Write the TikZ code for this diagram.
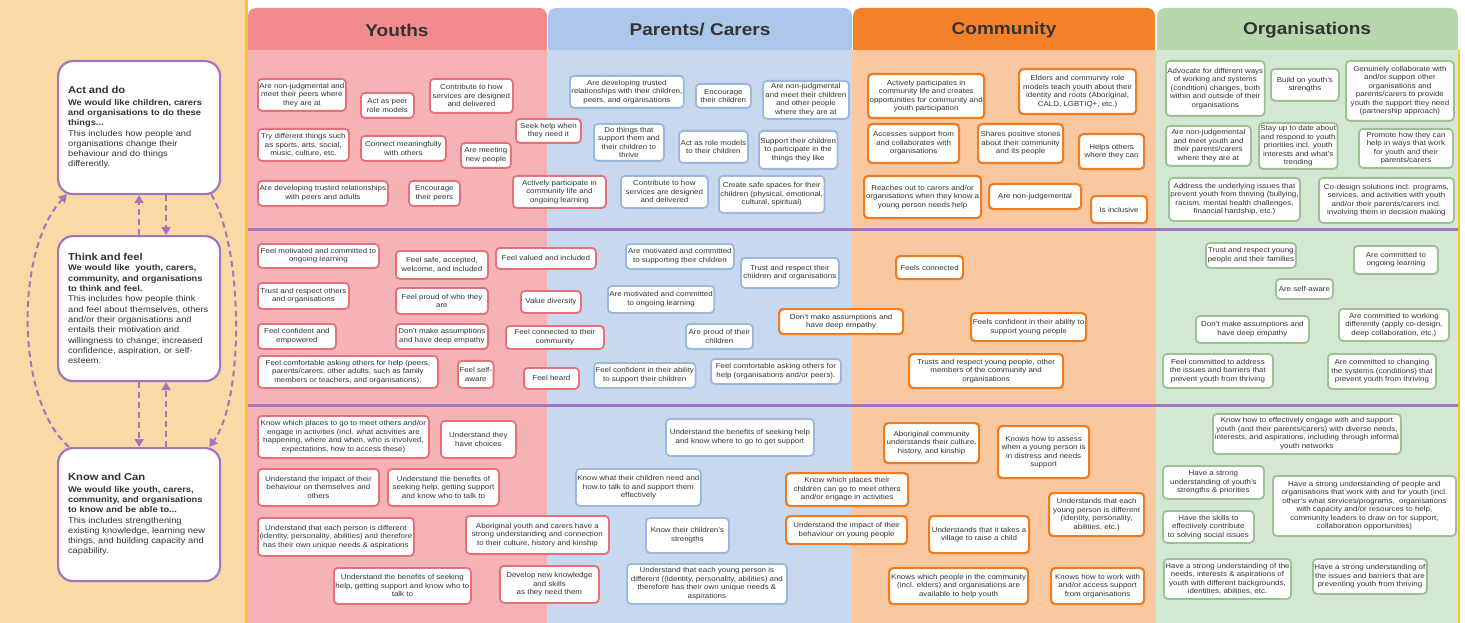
\documentclass[tikz,border=0pt]{standalone}
\usepackage{fontspec}
\setmainfont[FakeStretch=1.12]{Liberation Sans}
\usetikzlibrary{arrows.meta}
\definecolor{ink}{HTML}{333333}
\definecolor{leftbg}{HTML}{FBD9A6}
\definecolor{gold}{HTML}{F2C230}
\definecolor{purp}{HTML}{A077BC}
\definecolor{youthbg}{HTML}{F6B3B5}
\definecolor{youthhead}{HTML}{F28B8D}
\definecolor{youthline}{HTML}{E6717B}
\definecolor{parentbg}{HTML}{C7D8EF}
\definecolor{parenthead}{HTML}{ADC7EA}
\definecolor{parentline}{HTML}{9DB8DE}
\definecolor{commbg}{HTML}{FAC8A0}
\definecolor{commhead}{HTML}{F5822A}
\definecolor{commline}{HTML}{EE7D22}
\definecolor{orgbg}{HTML}{D4E7D2}
\definecolor{orghead}{HTML}{B7D8AC}
\definecolor{orgline}{HTML}{9CC293}

\begin{document}
\begin{tikzpicture}[
    x=1pt, y=-1pt,
    sz/.style 2 args={minimum width=#1pt, minimum height=#2pt},
    card/.style={fill=white, rounded corners=4pt, line width=1.8pt, align=center,
      inner sep=1.5pt, anchor=north west, text=ink, font=\fontsize{7.1}{8.5}\selectfont},
    ybox/.style={card, draw=youthline},
    pbox/.style={card, draw=parentline},
    cbox/.style={card, draw=commline, line width=2.2pt},
    obox/.style={card, draw=orgline},
    stage/.style={draw=purp, line width=2.2pt, fill=white, rounded corners=15pt,
      anchor=north west, align=left, text width=142pt, inner xsep=10pt, text=ink,
      font=\fontsize{8.3}{10.3}\selectfont},
    title/.style={text=ink, font=\fontsize{17}{20}\selectfont\bfseries},
    flow/.style={purp, line width=2pt, dash pattern=on 6pt off 4pt,
      -{Triangle[length=8pt,width=9pt]}},
    split/.style={purp, line width=3pt}
    ]
    \useasboundingbox (0,0) rectangle (1465,623);

    % backgrounds
    \fill[leftbg] (0,0) rectangle (246,623);
    \fill[youthbg] (248,50) rectangle (547,623);
    \fill[parentbg] (547,50) rectangle (852,623);
    \fill[commbg] (852,50) rectangle (1156,623);
    \fill[orgbg] (1156,50) rectangle (1458,623);
    \fill[gold] (245,0) rectangle (248,623);
    \fill[gold] (1458,50) rectangle (1460,623);

    % headers
    \fill[youthhead, rounded corners=8pt] (248,50) -- (248,8) -- (547,8) -- (547,50);
    \fill[parenthead, rounded corners=8pt] (548,50) -- (548,8) -- (852,8) -- (852,50);
    \fill[commhead, rounded corners=8pt] (853,50) -- (853,8) -- (1155,8) -- (1155,50);
    \fill[orghead, rounded corners=8pt] (1157,50) -- (1157,8) -- (1458,8) -- (1458,50);
    \node[title] (tYouth) at (397,30) {Youths};
    \node[title] (tParent) at (700,30) {Parents/ Carers};
    \node[title] (tComm) at (1004,30) {Community};
    \node[title] (tOrg) at (1307,30) {Organisations};

    % row separators
    \draw[split] (248,229) -- (1458,229);
    \draw[split] (248,405) -- (1458,405);

    % stages
    \node[stage, sz={161}{133}] (act) at (57,60) {%
      {\fontsize{10}{12}\selectfont\bfseries Act and do}\\[1pt]
      {\bfseries We would like children, carers\\and organisations to do these\\things...}\\
      This includes how people and\\organisations change their\\behaviour and do things\\differently.};
    \node[stage, sz={161}{145}] (think) at (57,235) {%
      {\fontsize{10}{12}\selectfont\bfseries Think and feel}\\
      {\bfseries We would like\ \ youth, carers,\\community, and organisations\\to think and feel.}\\
      This includes how people think\\and feel about themselves, others\\and/or their organisations and\\entails their motivation and\\willingness to change, increased\\confidence, aspiration, or self-\\esteem.};
    \node[stage, sz={161}{133}] (know) at (57,447) {%
      {\fontsize{10}{12}\selectfont\bfseries Know and Can}\\[1pt]
      {\bfseries We would like youth, carers,\\community, and organisations\\to know and be able to...}\\
      This includes strengthening\\existing knowledge, learning new\\things, and building capacity and\\capability.};

    % stage links
    \draw[flow] (think.north) -- (act.south);
    \draw[flow] ([xshift=27pt]act.south) -- ([xshift=27pt]think.north);
    \draw[flow] (think.south) -- (know.north);
    \draw[flow] ([xshift=27pt]know.north) -- ([xshift=27pt]think.south);
    \draw[flow] ([xshift=12pt]know.north west) .. controls (15,400) and (15,250) .. ([xshift=10pt,yshift=1pt]act.south west);
    \draw[flow] ([xshift=-10pt,yshift=1pt]act.south east) .. controls (244,250) and (244,400) .. ([xshift=-12pt]know.north east);

    % youths: act and do
    \node[ybox, sz={88}{32}] (y1) at (257,78) {Are non-judgmental and\\meet their peers where\\they are at};
    \node[ybox, sz={53}{25}] (y2) at (360,92) {Act as peer\\role models};
    \node[ybox, sz={83}{34}] (y3) at (429,78) {Contribute to how\\services are designed\\and delivered};
    \node[ybox, sz={65}{24}] (y4) at (515,118) {Seek help when\\they need it};
    \node[ybox, sz={91}{32}] (y5) at (257,128) {Try different things such\\as sports, arts, social,\\music, culture, etc.};
    \node[ybox, sz={85}{25}] (y6) at (360,135) {Connect meaningfully\\with others};
    \node[ybox, sz={50}{25}] (y7) at (460,142) {Are meeting\\new people};
    \node[ybox, sz={130}{25}] (y8) at (257,180) {Are developing trusted relationships\\with peers and adults};
    \node[ybox, sz={51}{25}] (y9) at (408,180) {Encourage\\their peers};
    \node[ybox, sz={93}{32}] (y10) at (512,175) {Actively participate in\\community life and\\ongoing learning};

    % parents: act and do
    \node[pbox, sz={113}{32}] (p1) at (569,75) {Are developing trusted\\relationships with their children,\\peers, and organisations};
    \node[pbox, sz={55}{24}] (p2) at (695,83) {Encourage\\their children};
    \node[pbox, sz={86}{38}] (p3) at (762,80) {Are non-judgmental\\and meet their children\\and other people\\where they are at};
    \node[pbox, sz={70}{37}] (p4) at (593,123) {Do things that\\support them and\\their children to\\thrive};
    \node[pbox, sz={69}{32}] (p5) at (678,130) {Act as role models\\to their children};
    \node[pbox, sz={77}{38}] (p6) at (758,130) {Support their children\\to participate in the\\things they like};
    \node[pbox, sz={87}{32}] (p7) at (620,175) {Contribute to how\\services are designed\\and delivered};
    \node[pbox, sz={104}{37}] (p8) at (718,175) {Create safe spaces for their\\children (physical, emotional,\\cultural, spiritual)};

    % community: act and do
    \node[cbox, sz={116}{44}] (c1) at (867,73) {Actively participates in\\community life and creates\\opportunities for community and\\youth participation};
    \node[cbox, sz={117}{45}] (c2) at (1018,68) {Elders and community role\\models teach youth about their\\identity and roots (Aboriginal,\\CALD, LGBTIQ+, etc.)};
    \node[cbox, sz={91}{39}] (c3) at (867,123) {Accesses support from\\and collaborates with\\organisations};
    \node[cbox, sz={85}{39}] (c4) at (977,123) {Shares positive stories\\about their community\\and its people};
    \node[cbox, sz={65}{35}] (c5) at (1078,133) {Helps others\\where they can};
    \node[cbox, sz={117}{42}] (c6) at (863,175) {Reaches out to carers and/or\\organisations when they know a\\young person needs help};
    \node[cbox, sz={92}{25}] (c7) at (988,183) {Are non-judgemental};
    \node[cbox, sz={56}{27}] (c8) at (1090,195) {Is inclusive};

    % organisations: act and do
    \node[obox, sz={93}{55}] (o1) at (1165,60) {Advocate for different ways\\of working and systems\\(condition) changes, both\\within and outside of their\\organisations};
    \node[obox, sz={68}{32}] (o2) at (1270,68) {Build on youth's\\strengths};
    \node[obox, sz={108}{60}] (o3) at (1345,60) {Genuinely collaborate with\\and/or support other\\organisations and\\parents/carers to provide\\youth the support they need\\(partnership approach)};
    \node[obox, sz={85}{40}] (o4) at (1165,125) {Are non-judgemental\\and meet youth and\\their parents/carers\\where they are at};
    \node[obox, sz={77}{46}] (o5) at (1258,122) {Stay up to date about\\and respond to youth\\priorities incl. youth\\interests and what's\\trending};
    \node[obox, sz={94}{39}] (o6) at (1358,128) {Promote how they can\\help in ways that work\\for youth and their\\parents/carers};
    \node[obox, sz={124}{43}] (o7) at (1168,177) {Address the underlying issues that\\prevent youth from thriving (bullying,\\racism, mental health challenges,\\financial hardship, etc.)};
    \node[obox, sz={135}{45}] (o8) at (1318,177) {Co-design solutions incl. programs,\\services, and activities with youth\\and/or their parents/carers incl.\\involving them in decision making};

    % youths: think and feel
    \node[ybox, sz={121}{24}] (y11) at (257,243) {Feel motivated and committed to\\ongoing learning};
    \node[ybox, sz={92}{28}] (y12) at (395,250) {Feel safe, accepted,\\welcome, and included};
    \node[ybox, sz={100}{21}] (y13) at (495,247) {Feel valued and included};
    \node[ybox, sz={91}{26}] (y14) at (257,282) {Trust and respect others\\and organisations};
    \node[ybox, sz={92}{26}] (y15) at (395,287) {Feel proud of who they\\are};
    \node[ybox, sz={60}{22}] (y16) at (520,290) {Value diversity};
    \node[ybox, sz={78}{25}] (y17) at (257,323) {Feel confident and\\empowered};
    \node[ybox, sz={92}{25}] (y18) at (395,323) {Don't make assumptions\\and have deep empathy};
    \node[ybox, sz={98}{23}] (y19) at (505,325) {Feel connected to their\\community};
    \node[ybox, sz={180}{32}] (y20) at (257,355) {Feel comfortable asking others for help (peers,\\parents/carers, other adults, such as family\\members or teachers, and organisations).};
    \node[ybox, sz={33}{27}] (y21) at (457,360) {Feel self-\\aware};
    \node[ybox, sz={55}{21}] (y22) at (523,367) {Feel heard};

    % parents: think and feel
    \node[pbox, sz={108}{25}] (p9) at (625,243) {Are motivated and committed\\to supporting their children};
    \node[pbox, sz={98}{30}] (p10) at (740,257) {Trust and respect their\\children and organisations};
    \node[pbox, sz={106}{27}] (p11) at (607,285) {Are motivated and committed\\to ongoing learning};
    \node[pbox, sz={67}{25}] (p12) at (685,323) {Are proud of their\\children};
    \node[pbox, sz={100}{25}] (p13) at (593,362) {Feel confident in their ability\\to support their children};
    \node[pbox, sz={130}{25}] (p14) at (710,358) {Feel comfortable asking others for\\help (organisations and/or peers).};

    % community: think and feel
    \node[cbox, sz={124}{25}] (c9) at (778,308) {Don't make assumptions and\\have deep empathy};
    \node[cbox, sz={67}{23}] (c10) at (895,255) {Feels connected};
    \node[cbox, sz={115}{28}] (c11) at (970,312) {Feels confident in their ability to\\support young people};
    \node[cbox, sz={154}{34}] (c12) at (908,353) {Trusts and respect young people, other\\members of the community and\\organisations};

    % organisations: think and feel
    \node[obox, sz={90}{25}] (o9) at (1205,242) {Trust and respect young\\people and their families};
    \node[obox, sz={84}{28}] (o10) at (1353,245) {Are committed to\\ongoing learning};
    \node[obox, sz={57}{20}] (o11) at (1275,278) {Are self-aware};
    \node[obox, sz={113}{27}] (o12) at (1195,315) {Don't make assumptions and\\have deep empathy};
    \node[obox, sz={110}{32}] (o13) at (1338,308) {Are committed to working\\differently (apply co-design,\\deep collaboration, etc.)};
    \node[obox, sz={110}{34}] (o14) at (1162,353) {Feel committed to address\\the issues and barriers that\\prevent youth from thriving};
    \node[obox, sz={108}{35}] (o15) at (1327,353) {Are committed to changing\\the systems (conditions) that\\prevent youth from thriving};

    % youths: know and can
    \node[ybox, sz={171}{42}] (y23) at (257,415) {Know which places to go to meet others and/or\\engage in activities (incl. what activities are\\happening, where and when, who is involved,\\expectations, how to access these)};
    \node[ybox, sz={75}{37}] (y24) at (440,420) {Understand they\\have choices};
    \node[ybox, sz={121}{37}] (y25) at (257,468) {Understand the impact of their\\behaviour on themselves and\\others};
    \node[ybox, sz={111}{37}] (y26) at (387,468) {Understand the benefits of\\seeking help, getting support\\and know who to talk to};
    \node[ybox, sz={156}{38}] (y27) at (257,517) {Understand that each person is different\\(identity, personality, abilities) and therefore\\has their own unique needs \& aspirations};
    \node[ybox, sz={143}{38}] (y28) at (465,515) {Aboriginal youth and carers have a\\strong understanding and connection\\to their culture, history and kinship};
    \node[ybox, sz={137}{36}] (y29) at (333,567) {Understand the benefits of seeking\\help, getting support and know who to\\talk to};
    \node[ybox, sz={99}{37}] (y30) at (499,565) {Develop new knowledge\\and skills\\as they need them};

    % parents: know and can
    \node[pbox, sz={148}{37}] (p15) at (665,418) {Understand the benefits of seeking help\\and know where to go to get support};
    \node[pbox, sz={123}{37}] (p16) at (575,468) {Know what their children need and\\how to talk to and support them\\effectively};
    \node[pbox, sz={83}{35}] (p17) at (645,517) {Know their children's\\strengths};
    \node[pbox, sz={160}{40}] (p18) at (626,563) {Understand that each young person is\\different ((identity, personality, abilities) and\\therefore has their own unique needs \&\\aspirations};

    % community: know and can
    \node[cbox, sz={122}{33}] (c13) at (785,472) {Know which places their\\children can go to meet others\\and/or engage in activities};
    \node[cbox, sz={121}{28}] (c14) at (785,515) {Understand the impact of their\\behaviour on young people};
    \node[cbox, sz={95}{40}] (c15) at (883,422) {Aboriginal community\\understands their culture,\\history, and kinship};
    \node[cbox, sz={91}{52}] (c16) at (997,425) {Knows how to assess\\when a young person is\\in distress and needs\\support};
    \node[cbox, sz={95}{43}] (c17) at (1048,492) {Understands that each\\young person is different\\(identity, personality,\\abilities, etc.)};
    \node[cbox, sz={100}{37}] (c18) at (928,515) {Understands that it takes a\\village to raise a child};
    \node[cbox, sz={139}{36}] (c19) at (888,567) {Knows which people in the community\\(incl. elders) and organisations are\\available to help youth};
    \node[cbox, sz={93}{36}] (c20) at (1050,567) {Knows how to work with\\and/or access support\\from organisations};

    % organisations: know and can
    \node[obox, sz={188}{40}] (o16) at (1212,413) {Know how to effectively engage with and support\\youth (and their parents/carers) with diverse needs,\\interests, and aspirations, including through informal\\youth networks};
    \node[obox, sz={101}{33}] (o17) at (1162,465) {Have a strong\\understanding of youth's\\strengths \& priorities};
    \node[obox, sz={183}{60}] (o18) at (1272,475) {Have a strong understanding of people and\\organisations that work with and for youth (incl.\\other's what services/programs,\ \ organisations\\with capacity and/or resources to help,\\community leaders to draw on for support,\\collaboration opportunities)};
    \node[obox, sz={91}{32}] (o19) at (1162,510) {Have the skills to\\effectively contribute\\to solving social issues};
    \node[obox, sz={122}{40}] (o20) at (1163,558) {Have a strong understanding of the\\needs, interests \& aspirations of\\youth with different backgrounds,\\identities, abilities, etc.};
    \node[obox, sz={110}{35}] (o21) at (1312,558) {Have a strong understanding of\\the issues and barriers that are\\preventing youth from thriving};

\end{tikzpicture}
\end{document}
